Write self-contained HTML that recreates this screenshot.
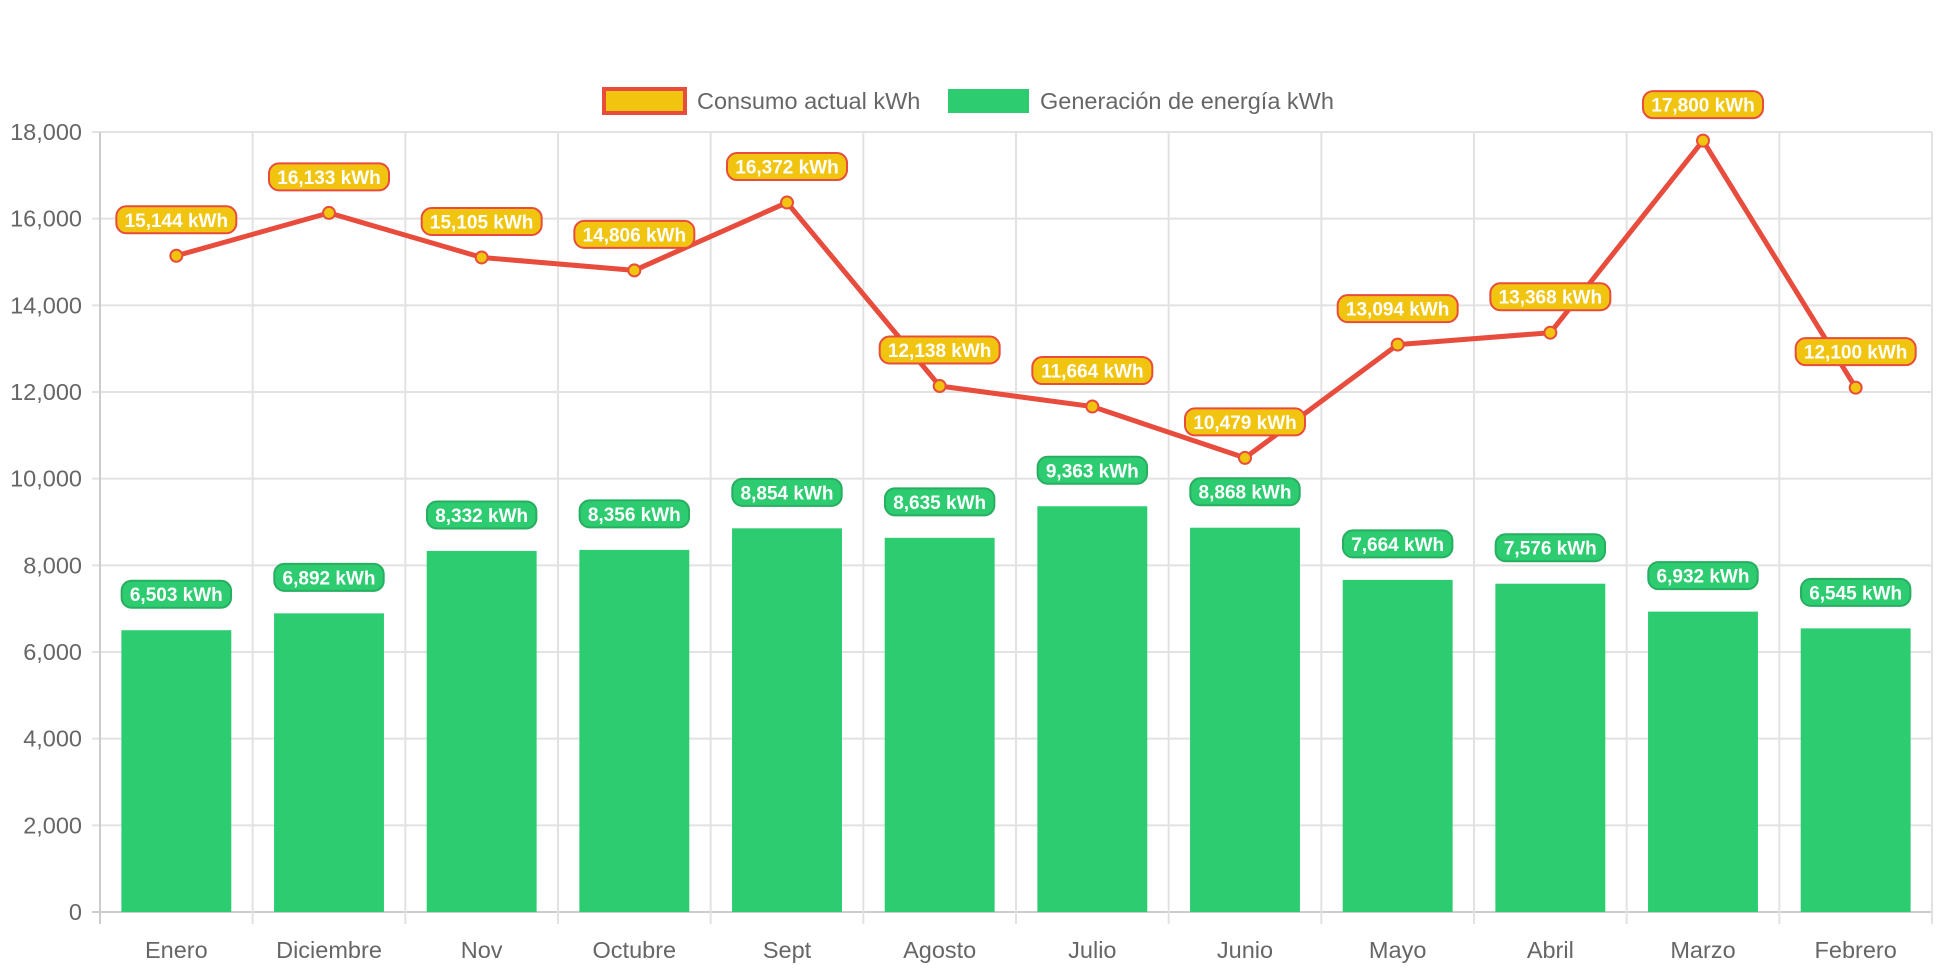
<!DOCTYPE html>
<html><head><meta charset="utf-8"><style>
body{margin:0;background:#fff;}
svg text{font-family:"Liberation Sans",Arial,sans-serif;}
</style></head><body>
<svg id="chart" width="1942" height="970" xmlns="http://www.w3.org/2000/svg">
<g id="legend">
 <g>
  <rect x="604" y="89" width="81" height="24" fill="#f1c40f" stroke="#e74c3c" stroke-width="4"/>
  <text x="697" y="109" font-size="23.5" fill="#666">Consumo actual kWh</text>
 </g>
 <g>
  <rect x="948" y="89" width="81" height="24" fill="#2ecc71"/>
  <text x="1040" y="109" font-size="23.5" fill="#666">Generación de energía kWh</text>
 </g>
</g>
<g id="grid"></g><g id="bars"></g><g id="line"></g><g id="labels"></g>
</svg>
<script>
const categories=["Enero","Diciembre","Nov","Octubre","Sept","Agosto","Julio","Junio","Mayo","Abril","Marzo","Febrero"];
const consumo=[15144,16133,15105,14806,16372,12138,11664,10479,13094,13368,17800,12100];
const generacion=[6503,6892,8332,8356,8854,8635,9363,8868,7664,7576,6932,6545];
const yTicks=[0,2000,4000,6000,8000,10000,12000,14000,16000,18000];
const NS="http://www.w3.org/2000/svg";
const L=100,R=1932,T=132,B=912,yMax=18000;
const cw=(R-L)/categories.length;
const x=i=>L+cw*(i+0.5);
const y=v=>B-(v/yMax)*(B-T);
const fmt=v=>v.toLocaleString("en-US");
function mk(parent,tag,attrs){const e=document.createElementNS(NS,tag);for(const k in attrs)e.setAttribute(k,attrs[k]);document.getElementById(parent).appendChild(e);return e;}
yTicks.forEach(t=>{
 const g=mk("grid","line",{x1:L-8,x2:R,y1:y(t),y2:y(t),stroke:t===0?"#ccc":"#e2e2e2","stroke-width":2});
 
 
 const tx=mk("grid","text",{x:L-18,y:y(t)+8,"text-anchor":"end","font-size":23.5,fill:"#666"});
 tx.textContent=fmt(t);
 
 
});
for(let i=0;i<=categories.length;i++){
 const g=mk("grid","line",{x1:L+cw*i,x2:L+cw*i,y1:T,y2:B+12,stroke:i===0?"#ccc":"#e2e2e2","stroke-width":2});
 
 
}
categories.forEach((c,i)=>{
 const tx=mk("grid","text",{x:x(i),y:958,"text-anchor":"middle","font-size":23.5,fill:"#666"});
 tx.textContent=c;
 
 
});
function pill(cx,cy,text,fill,stroke,name){
 const w=text.length*10.6+14,h=27;
 const r=mk("labels","rect",{x:cx-w/2,y:cy-h/2,width:w,height:h,rx:10,fill:fill,stroke:stroke,"stroke-width":2});
 
 
 const t=mk("labels","text",{x:cx,y:cy+7,"text-anchor":"middle","font-size":19,"font-weight":"bold",fill:"#fff"});
 t.textContent=text;
 
 
}
const bw=cw*0.72;
generacion.forEach((v,i)=>{
 const b=mk("bars","rect",{x:x(i)-bw/2,y:y(v),width:bw,height:B-y(v),fill:"#2ecc71"});
 
 
 pill(x(i),y(v)-36,fmt(v)+" kWh","#2ecc71","#27ae60","bar-value-label");
});
const pl=mk("line","polyline",{points:consumo.map((v,i)=>x(i)+","+y(v)).join(" "),fill:"none",stroke:"#e74c3c","stroke-width":5,"stroke-linejoin":"round"});


consumo.forEach((v,i)=>{
 const c=mk("line","circle",{cx:x(i),cy:y(v),r:6,fill:"#f1c40f",stroke:"#e74c3c","stroke-width":2});
 
 
 pill(x(i),y(v)-36,fmt(v)+" kWh","#f1c40f","#e74c3c","line-value-label");
});
</script>
</body></html>
